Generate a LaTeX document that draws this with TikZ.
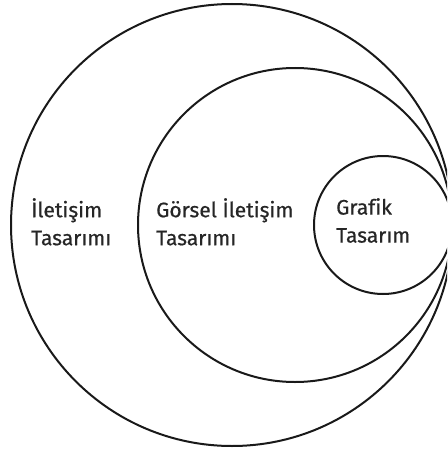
\documentclass[tikz,border=0pt]{standalone}
\usepackage{fontspec}
\setmainfont[Ligatures=NoCommon,FakeBold=0.6]{Fira Sans}
\begin{document}
\begin{tikzpicture}[x=1pt,y=-1pt,
  ring/.style={draw=black!90,line width=2pt},
  lbl/.style={anchor=north west,inner sep=0pt,align=left,font=\fontsize{21}{28}\selectfont,text=black!85}]
\useasboundingbox (0,0) rectangle (447,452);
\clip (0,0) rectangle (447,452);
\draw[ring] (232,225) circle (221) coordinate (outer);
\draw[ring] (295,225) circle (157) coordinate (middle);
\draw[ring] (383,225) circle (69) coordinate (inner);
\node[lbl] (t1) at (31,198) {İletişim\\Tasarımı};
\node[lbl] (t2) at (156,198) {Görsel İletişim\\Tasarımı};
\node[lbl] (t3) at (336,198) {Grafik\\Tasarım};
\end{tikzpicture}
\end{document}
